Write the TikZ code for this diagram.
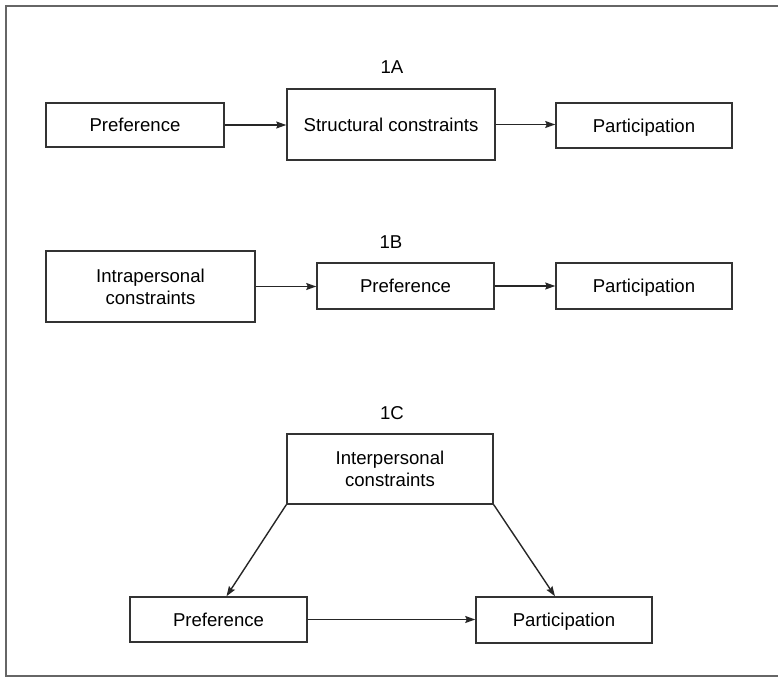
\documentclass[tikz,border=0pt]{standalone}
\usepackage{fontspec}
\setmainfont{Liberation Sans}
\usetikzlibrary{arrows.meta}
\begin{document}
\begin{tikzpicture}[x=1bp,y=-1bp,
  font=\fontsize{18.6bp}{22bp}\selectfont,
  box/.style={draw=black!80, line width=1.5bp, inner sep=0pt, align=center,
    minimum width=#1, anchor=center},
  box/.default=177bp,
  onerow/.style={text height=13.4bp, text depth=0pt},
  arr/.style={draw=black!85, line width=1.4bp,
    -{Stealth[length=10bp,width=7bp,inset=1.5bp]}},
  frameline/.style={draw=black!60, line width=1.6bp},
  tag/.style={inner sep=0pt, anchor=center}]
  \useasboundingbox (0,0) rectangle (778,679);
  % outer frame, open on the right
  \draw[frameline] (780,6) -- (6,6) -- (6,676) -- (780,676);

  % 1A
  \node[tag] (tA) at (392,67) {1A};
  \node[box=178bp, onerow, minimum height=44bp] (A1) at (135,125) {Preference};
  \node[box=208bp, onerow, minimum height=71bp] (A2) at (391,124.5) {Structural constraints};
  \node[box=176bp, onerow, minimum height=45bp] (A3) at (644,125.5) {Participation};
  \draw[arr] (A1.east) -- (A2.west |- A1.east);
  \draw[arr] (A2.east) -- (A3.west |- A2.east);

  % 1B
  \node[tag] (tB) at (391,242) {1B};
  \node[box=209bp, minimum height=71bp] (B1) at (150.5,286.5) {Intrapersonal\\constraints};
  \node[box=177bp, onerow, minimum height=46bp] (B2) at (405.5,286) {Preference};
  \node[box=176bp, onerow, minimum height=46bp] (B3) at (644,286) {Participation};
  \draw[arr] (B1.east) -- (B2.west |- B1.east);
  \draw[arr] (B2.east) -- (B3.west |- B2.east);

  % 1C
  \node[tag] (tC) at (392,413) {1C};
  \node[box=206bp, minimum height=70bp] (C1) at (390,469) {Interpersonal\\constraints};
  \node[box=177bp, onerow, minimum height=45bp] (C2) at (218.5,619.5) {Preference};
  \node[box=176bp, onerow, minimum height=46bp] (C3) at (564,620) {Participation};
  \draw[arr] (C1.south west) -- ([xshift=8bp]C2.north);
  \draw[arr] (C1.south east) -- ([xshift=-9bp]C3.north);
  \draw[arr] (C2.east) -- (C3.west |- C2.east);
\end{tikzpicture}
\end{document}
